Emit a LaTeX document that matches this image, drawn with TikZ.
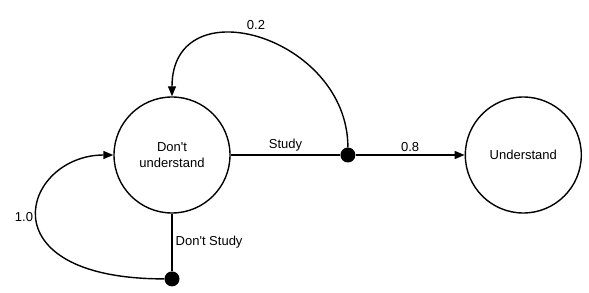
\documentclass[tikz,border=0pt]{standalone}
\usepackage{fontspec}
\setmainfont{Liberation Sans}
\usetikzlibrary{arrows.meta,positioning}

\begin{document}
\begin{tikzpicture}[
  x=1pt, y=1pt,
  state/.style={draw, circle, line width=1.4pt, minimum size=116pt, inner sep=0pt, align=center, font=\fontsize{13}{16}\selectfont},
  junction/.style={circle, fill=black, minimum size=15pt, inner sep=0pt},
  link/.style={line width=1.4pt},
  flow/.style={link, -{Triangle[length=10pt,width=8pt]}},
  lbl/.style={font=\fontsize{13}{16}\selectfont, inner sep=3pt}
]
\useasboundingbox (0,0) rectangle (589,292);
\node[state] (dont) at (172,137) {Don\textquotesingle t\\understand};
\node[junction, right=109.5pt of dont] (study) {};
\node[state, right=109pt of study] (und) {Understand};
\node[junction, below=57.5pt of dont] (nostudy) {};
\draw[link] (dont) -- node[lbl, above] {Study} (study);
\draw[flow] (study) -- node[lbl, above] {0.8} (und);
\draw[flow] (study) to[out=90, in=90, looseness=1.55] node[lbl, above, inner sep=8pt, xshift=-4pt] {0.2} (dont.north);
\draw[link] (dont) -- node[lbl, right] {Don\textquotesingle t Study} (nostudy);
\draw[flow] (nostudy) .. controls +(-190,0) and +(-90,0) .. node[lbl, left] {1.0} (dont.west);
\end{tikzpicture}
\end{document}
